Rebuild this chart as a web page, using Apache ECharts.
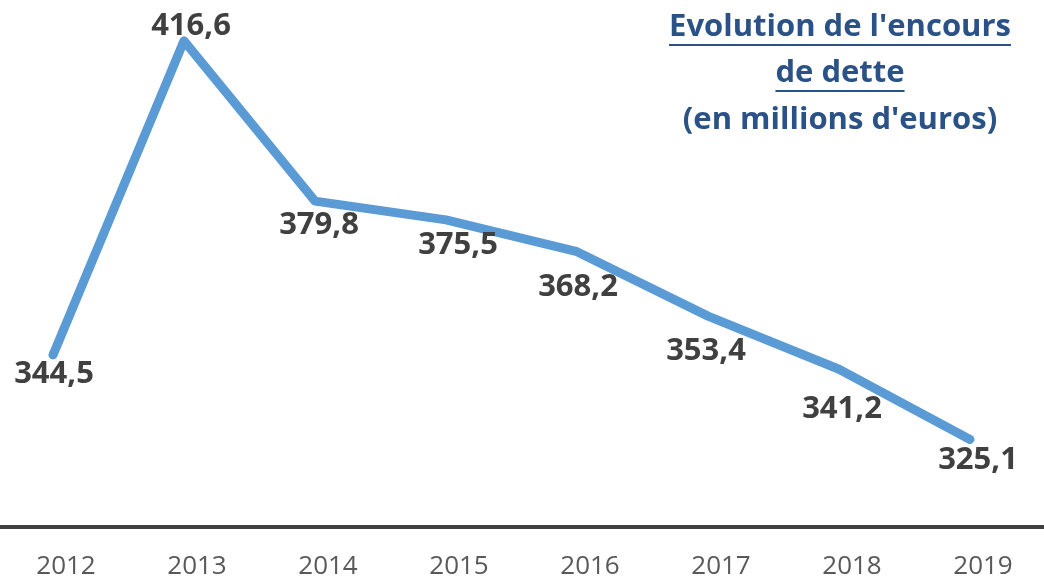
<!DOCTYPE html>
<html>
<head>
<meta charset="utf-8">
<script src="https://cdn.jsdelivr.net/npm/echarts@6/dist/echarts.min.js"></script>
<style>
html,body{margin:0;padding:0;background:#fff;}
#chart{width:1044px;height:580px;}
</style>
</head>
<body>
<div id="chart"></div>
<script>
// ---- data ----
const categories = ['2012','2013','2014','2015','2016','2017','2018','2019'];
const values = [344.5, 416.6, 379.8, 375.5, 368.2, 353.4, 341.2, 325.1];
const titleLines = ["Evolution de l'encours", "de dette", "(en millions d'euros)"];

// ---- layout ----
const W = 1044, H = 580;
const GRID = {left: 53, right: 74, top: 26, bottom: 53};
const labelOffsets = [[1,19],[7,-15],[4,24],[12,25],[1,36],[-2,35],[3,40],[8,21]];
const FONT = '"Open Sans", "Liberation Sans", sans-serif';
const TITLE_COLOR = '#2B5287';
const TITLE_SIZE = 31;

function fmt(v){ return v.toFixed(1).replace('.', ','); }

function textWidth(str, size){
  const c = document.createElement('canvas').getContext('2d');
  c.font = 'bold ' + size + 'px "Open Sans"';
  return c.measureText(str).width;
}

const chart = echarts.init(document.getElementById('chart'), null, {renderer:'canvas'});

const seriesData = values.map((v,i)=>({
  value: v,
  label: {offset: labelOffsets[i]}
}));

const titleX = 840;
const titleYs = [27, 73, 120];
const underlineYs = [45, 91];
const graphics = [];
titleLines.forEach((t,i)=>{
  graphics.push({
    type:'text', x: titleX, y: titleYs[i], silent:true,
    style:{text:t, fill:TITLE_COLOR, font:'bold '+TITLE_SIZE+'px '+FONT, textAlign:'center', textVerticalAlign:'middle'}
  });
});
[0,1].forEach(i=>{
  const w = textWidth(titleLines[i], TITLE_SIZE);
  graphics.push({
    type:'line', silent:true,
    shape:{x1:titleX-w/2, y1:underlineYs[i], x2:titleX+w/2, y2:underlineYs[i]},
    style:{stroke:TITLE_COLOR, lineWidth:2}
  });
});
// full-width baseline (category axis line)
graphics.push({
  type:'line', silent:true,
  shape:{x1:0, y1:H-GRID.bottom, x2:W, y2:H-GRID.bottom},
  style:{stroke:'#404040', lineWidth:4}
});

chart.setOption({
  animation:false,
  backgroundColor:'#ffffff',
  grid:GRID,
  xAxis:{
    type:'category', data:categories, boundaryGap:false,
    axisLine:{show:false}, axisTick:{show:false}, splitLine:{show:false},
    axisLabel:{color:'#595959', fontSize:26, fontFamily:FONT, margin:27, padding:[0,0,0,26]}
  },
  yAxis:{
    type:'value', min:305, max:420, show:false, splitLine:{show:false}
  },
  graphic:graphics,
  series:[{
    type:'line', data:seriesData,
    symbol:'circle', symbolSize:1, showSymbol:true,
    itemStyle:{color:'#5B9BD5'},
    lineStyle:{color:'#5B9BD5', width:9, cap:'round', join:'round'},
    label:{show:true, position:'inside', formatter:p=>fmt(p.value),
      color:'#404040', fontSize:31, fontWeight:'bold', fontFamily:FONT}
  }]
});
</script>
</body>
</html>
